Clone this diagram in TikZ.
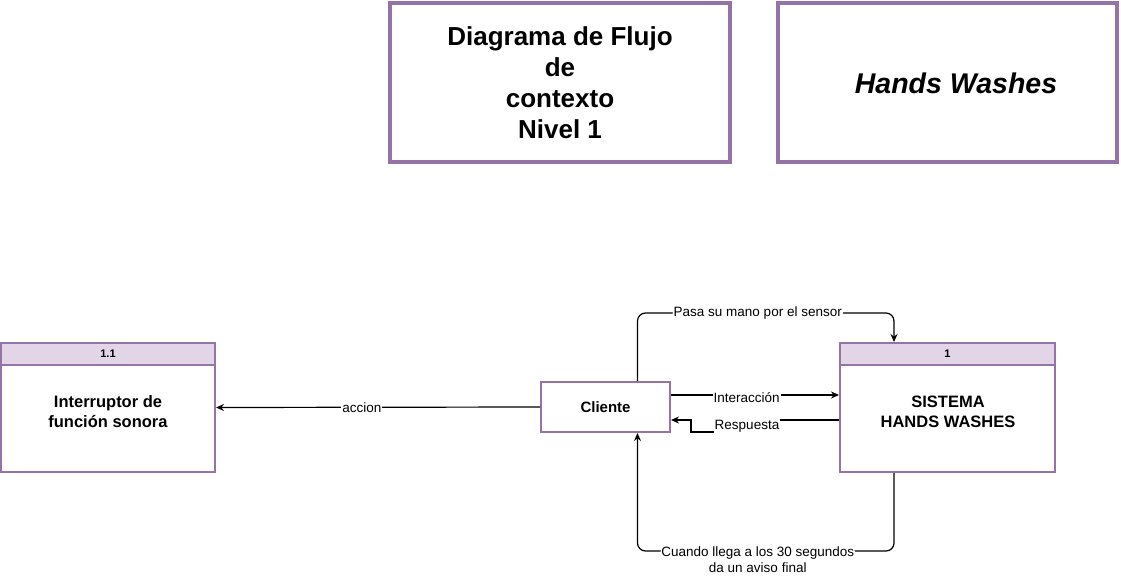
\documentclass[tikz,border=0pt]{standalone}
\usepackage{fontspec}
\setmainfont{Liberation Sans}
\usetikzlibrary{arrows.meta,positioning}
\tikzset{>={Stealth[length=8pt,width=7pt]}}
\colorlet{background}{white}
\colorlet{penColor}{black}
\definecolor{lineaMorada}{HTML}{9673A6}
\definecolor{rellenoMorado}{HTML}{E1D5E7}
\tikzset{
	titulo/.style={draw=lineaMorada, line width=4pt, minimum width=340pt, minimum height=159pt, inner sep=0pt, align=center, font=\fontsize{26}{31}\selectfont\bfseries},
	proceso/.style={draw=lineaMorada, line width=2pt, fill=background, minimum width=214pt, minimum height=129pt, inner sep=0pt},
	cabecera/.style={draw=lineaMorada, line width=2pt, fill=rellenoMorado, minimum width=214pt, minimum height=22pt, inner sep=0pt, anchor=north, font=\fontsize{11}{13}\selectfont\bfseries},
	texto/.style={align=center, font=\fontsize{16.5}{20}\selectfont\bfseries},
	flujo/.style={->, penColor, line width=1.2pt},
	etiqueta/.style={fill=background, inner sep=1pt, align=center, font=\fontsize{13.5}{16.5}\selectfont}
}

\begin{document}
\begin{tikzpicture}[x=1pt,y=-1pt]
				\useasboundingbox (0,0) rectangle (1121,578);
				\node[titulo] (titulo1) at (560,82.5) {Diagrama de Flujo\\de\\contexto\\Nivel 1};
				\node[titulo, minimum width=339pt] (titulo2) at (947.5,82.5) {};
				\node[font=\fontsize{28.5}{34}\selectfont\bfseries\itshape] (tituloTexto2) at (956,83) {Hands Washes};
				
				\node[proceso] (interr) at (108,407.5) {};
				\node[cabecera] (interrCab) at (interr.north) {1.1};
				\node[texto] (interrTexto) at (108,412) {Interruptor de\\función sonora};
				
				\node[proceso, minimum width=215pt] (sistema) at (947.5,407.5) {};
				\node[cabecera, minimum width=215pt] (sistemaCab) at (sistema.north) {1};
				\node[texto] (sistemaTexto) at (948,412) {SISTEMA\\HANDS WASHES};
				
				\node[proceso, minimum width=129pt, minimum height=50pt, font=\fontsize{15}{18}\selectfont\bfseries] (cliente) at (605.5,407) {Cliente};
				
				\draw[flujo] (cliente.west) -- node[etiqueta, pos=0.55]{accion} (interr.east);
				\draw[flujo, rounded corners=8pt] ([xshift=32pt]cliente.north) -- ++(0,-68) -| node[etiqueta, pos=0.25, xshift=-8pt]{Pasa su mano por el sensor} ([xshift=-53.5pt]sistema.north);
				\draw[flujo] ([yshift=12pt]cliente.east) -- node[etiqueta, pos=0.45, yshift=-3pt]{Interacción} ([yshift=12.5pt]sistema.west);
				\draw[flujo] ([yshift=-12.5pt]sistema.west) -- ++(-80,0) -- node[etiqueta, xshift=-12pt]{Respuesta} ++(0,12) -| ([xshift=20pt,yshift=-13pt]cliente.east) -- ([yshift=-13pt]cliente.east);
				\draw[flujo, rounded corners=8pt] ([xshift=-53.5pt]sistema.south) -- ++(0,78) -| node[etiqueta, pos=0.25, xshift=-8pt, anchor=north, yshift=6pt]{Cuando llega a los 30 segundos\\da un aviso final} ([xshift=32pt]cliente.south);
\end{tikzpicture}
\end{document}
